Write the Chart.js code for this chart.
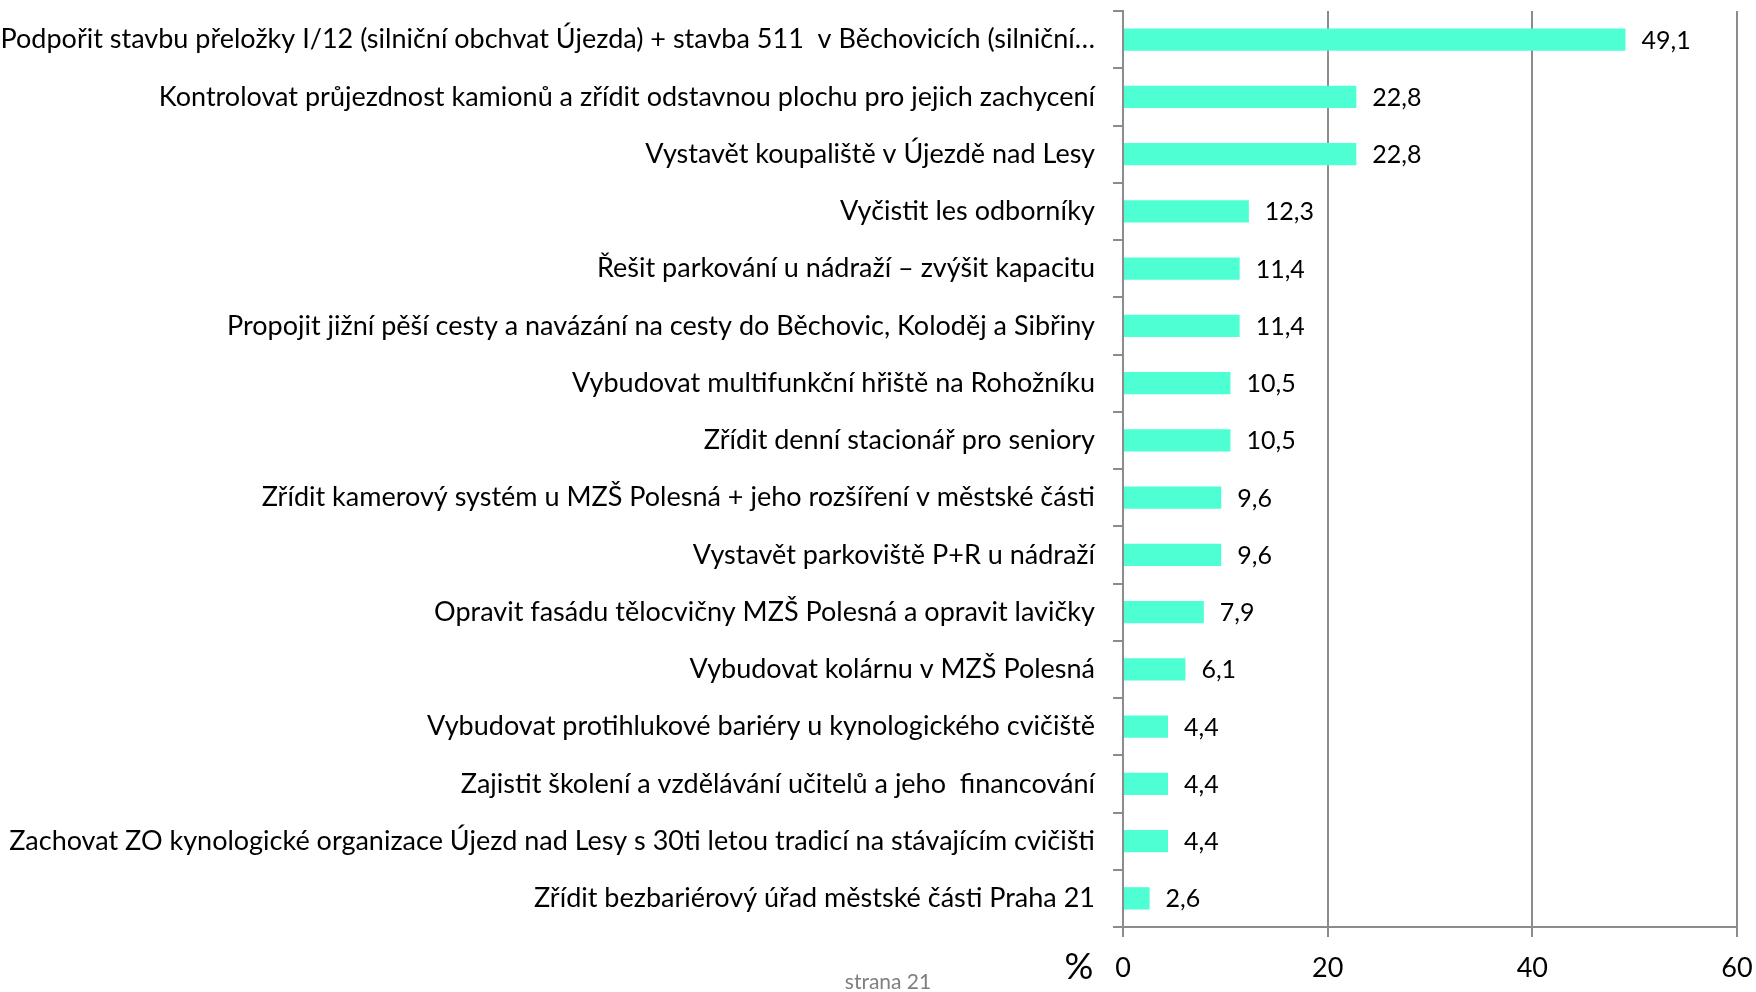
<!DOCTYPE html>
<html>
<head>
<meta charset="utf-8">
<script src="https://cdn.jsdelivr.net/npm/chart.js@4/dist/chart.umd.min.js"></script>
<style>
  html, body { margin: 0; padding: 0; background: #fff; }
  #wrap { width: 1756px; height: 992px; }
</style>
</head>
<body>
<div id="wrap"><canvas id="bar-chart"></canvas></div>
<script>
  // Data
  var categories = [
    'Podpořit stavbu přeložky I/12 (silniční obchvat Újezda) + stavba 511  v Běchovicích (silniční…',
    'Kontrolovat průjezdnost kamionů a zřídit odstavnou plochu pro jejich zachycení',
    'Vystavět koupaliště v Újezdě nad Lesy',
    'Vyčistit les odborníky',
    'Řešit parkování u nádraží – zvýšit kapacitu',
    'Propojit jižní pěší cesty a navázání na cesty do Běchovic, Koloděj a Sibřiny',
    'Vybudovat multifunkční hřiště na Rohožníku',
    'Zřídit denní stacionář pro seniory',
    'Zřídit kamerový systém u MZŠ Polesná + jeho rozšíření v městské části',
    'Vystavět parkoviště P+R u nádraží',
    'Opravit fasádu tělocvičny MZŠ Polesná a opravit lavičky',
    'Vybudovat kolárnu v MZŠ Polesná',
    'Vybudovat protihlukové bariéry u kynologického cvičiště',
    'Zajistit školení a vzdělávání učitelů a jeho  financování',
    'Zachovat ZO kynologické organizace Újezd nad Lesy s 30ti letou tradicí na stávajícím cvičišti',
    'Zřídit bezbariérový úřad městské části Praha 21'
  ];
  var values = [49.1, 22.8, 22.8, 12.3, 11.4, 11.4, 10.5, 10.5, 9.6, 9.6, 7.9, 6.1, 4.4, 4.4, 4.4, 2.6];
  var xTicks = [0, 20, 40, 60];
  var unitLabel = '%';
  var footerText = 'strana 21';

  var barColor = '#4dffd3';
  var gridColor = '#8c8c8c';
  var fontFamily = 'Lato, "Open Sans", sans-serif';

  // value labels at the end of each bar, plus the % sign and page footer
  var extrasPlugin = {
    id: 'extras',
    afterDatasetsDraw: function (chart) {
      var ctx = chart.ctx;
      var meta = chart.getDatasetMeta(0);
      ctx.save();
      ctx.font = '25px ' + fontFamily;
      ctx.fillStyle = '#000';
      ctx.textAlign = 'left';
      ctx.textBaseline = 'middle';
      meta.data.forEach(function (bar, i) {
        ctx.fillText(values[i].toFixed(1).replace('.', ','), bar.x + 16, bar.y + 1);
      });
      ctx.restore();
    },
    afterDraw: function (chart) {
      var ctx = chart.ctx;
      var xScale = chart.scales.x;
      ctx.save();
      ctx.fillStyle = '#000';
      ctx.textAlign = 'center';
      ctx.textBaseline = 'alphabetic';
      ctx.font = '36px ' + fontFamily;
      ctx.fillText(unitLabel, xScale.left - 44, xScale.top + 52);
      ctx.font = '21px ' + fontFamily;
      ctx.fillStyle = '#7f7f7f';
      ctx.fillText(footerText, 888, 989);
      ctx.restore();
    }
  };

  var barChart = new Chart(document.getElementById('bar-chart'), {
    type: 'bar',
    data: {
      labels: categories,
      datasets: [{
        data: values,
        backgroundColor: barColor,
        borderWidth: 0,
        barPercentage: 0.39,
        categoryPercentage: 1
      }]
    },
    plugins: [extrasPlugin],
    options: {
      indexAxis: 'y',
      responsive: true,
      maintainAspectRatio: false,
      animation: false,
      layout: { padding: { top: 11, right: 19, bottom: 8, left: 0 } },
      plugins: {
        legend: { display: false },
        tooltip: { enabled: false }
      },
      scales: {
        x: {
          min: 0,
          max: 60,
          afterBuildTicks: function (scale) {
            scale.ticks = xTicks.map(function (v) { return { value: v }; });
          },
          afterFit: function (scale) {
            scale.height = 57;
            scale.paddingLeft = 0;
            scale.paddingRight = 0;
          },
          grid: { color: gridColor, lineWidth: 2, tickLength: 10, drawTicks: true },
          border: { display: true, color: gridColor, width: 2 },
          ticks: { color: '#000', padding: 15, font: { family: fontFamily, size: 27 } }
        },
        y: {
          afterFit: function (scale) {
            scale.width = 1123;
            scale.paddingTop = 0;
            scale.paddingBottom = 0;
          },
          grid: { offset: true, drawOnChartArea: false, color: gridColor, lineWidth: 2, tickLength: 10 },
          border: { display: true, color: gridColor, width: 2 },
          ticks: { color: '#000', padding: 18, font: { family: fontFamily, size: 27 } }
        }
      }
    }
  });
</script>
</body>
</html>
